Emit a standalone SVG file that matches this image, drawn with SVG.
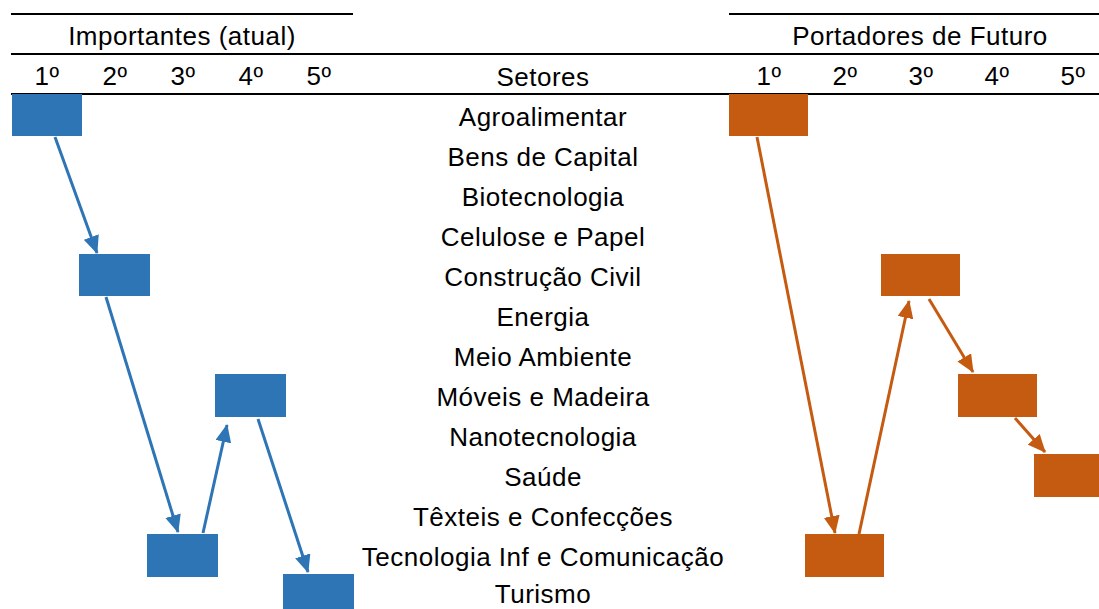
<svg xmlns="http://www.w3.org/2000/svg" width="1099" height="609" viewBox="0 0 1099 609">
<style>
text{font-family:"Liberation Sans",Arial,sans-serif;font-size:26px;letter-spacing:0.5px;fill:#000;text-anchor:middle}
.rule{stroke:#000;stroke-width:2}
.blue{fill:#2E75B6}
.orange{fill:#C55A11}
.cb{stroke:#2E75B6;stroke-width:3;fill:none;marker-end:url(#ab)}
.co{stroke:#C55A11;stroke-width:3;fill:none;marker-end:url(#ao)}
</style>
<defs>
<marker id="ab" markerUnits="userSpaceOnUse" markerWidth="18" markerHeight="16" viewBox="0 0 18 16" refX="17" refY="8" orient="auto"><path d="M0,0 L18,8 L0,16 z" fill="#2E75B6"/></marker>
<marker id="ao" markerUnits="userSpaceOnUse" markerWidth="18" markerHeight="16" viewBox="0 0 18 16" refX="17" refY="8" orient="auto"><path d="M0,0 L18,8 L0,16 z" fill="#C55A11"/></marker>
</defs>
<rect width="1099" height="609" fill="#fff"/>
<g id="header">
<line class="rule" x1="11" y1="14" x2="353" y2="14"/>
<line class="rule" x1="729" y1="14" x2="1099" y2="14"/>
<line class="rule" x1="11" y1="54" x2="1099" y2="54"/>
<line class="rule" x1="11" y1="94" x2="1099" y2="94"/>
<text x="182" y="45">Importantes (atual)</text>
<text x="920" y="45">Portadores de Futuro</text>
<text x="47" y="85">1º</text>
<text x="115" y="85">2º</text>
<text x="183" y="85">3º</text>
<text x="251" y="85">4º</text>
<text x="319" y="85">5º</text>
<text x="543" y="86">Setores</text>
<text x="769" y="85">1º</text>
<text x="845" y="85">2º</text>
<text x="921" y="85">3º</text>
<text x="997" y="85">4º</text>
<text x="1073" y="85">5º</text>
</g>
<g id="sectors">
<text x="543" y="126">Agroalimentar</text>
<text x="543" y="166">Bens de Capital</text>
<text x="543" y="206">Biotecnologia</text>
<text x="543" y="246">Celulose e Papel</text>
<text x="543" y="286">Construção Civil</text>
<text x="543" y="326">Energia</text>
<text x="543" y="366">Meio Ambiente</text>
<text x="543" y="406">Móveis e Madeira</text>
<text x="543" y="446">Nanotecnologia</text>
<text x="543" y="486">Saúde</text>
<text x="543" y="526">Têxteis e Confecções</text>
<text x="543" y="566">Tecnologia Inf e Comunicação</text>
<text x="543" y="603">Turismo</text>
</g>
<g id="imp-agro"><rect class="blue" x="12" y="94" width="70" height="42"/></g>
<g id="imp-construcao"><rect class="blue" x="79" y="254" width="71" height="42"/></g>
<g id="imp-moveis"><rect class="blue" x="215" y="374" width="71" height="43"/></g>
<g id="imp-tic"><rect class="blue" x="147" y="534" width="71" height="43"/></g>
<g id="imp-turismo"><rect class="blue" x="283" y="574" width="71" height="43"/></g>
<g id="fut-agro"><rect class="orange" x="729" y="94" width="79" height="42"/></g>
<g id="fut-construcao"><rect class="orange" x="881" y="254" width="79" height="42"/></g>
<g id="fut-moveis"><rect class="orange" x="958" y="374" width="79" height="43"/></g>
<g id="fut-saude"><rect class="orange" x="1034" y="454" width="79" height="43"/></g>
<g id="fut-tic"><rect class="orange" x="805" y="534" width="79" height="43"/></g>
<g id="connectors">
<line class="cb" x1="55" y1="137" x2="97" y2="253"/>
<line class="cb" x1="106" y1="297" x2="178" y2="532"/>
<line class="cb" x1="203" y1="533" x2="227" y2="425"/>
<line class="cb" x1="258" y1="419" x2="308" y2="572"/>
<line class="co" x1="757" y1="137" x2="835" y2="533"/>
<line class="co" x1="859" y1="534" x2="909" y2="301"/>
<line class="co" x1="929" y1="299" x2="973" y2="372"/>
<line class="co" x1="1015" y1="418" x2="1045" y2="452"/>
</g>
</svg>
